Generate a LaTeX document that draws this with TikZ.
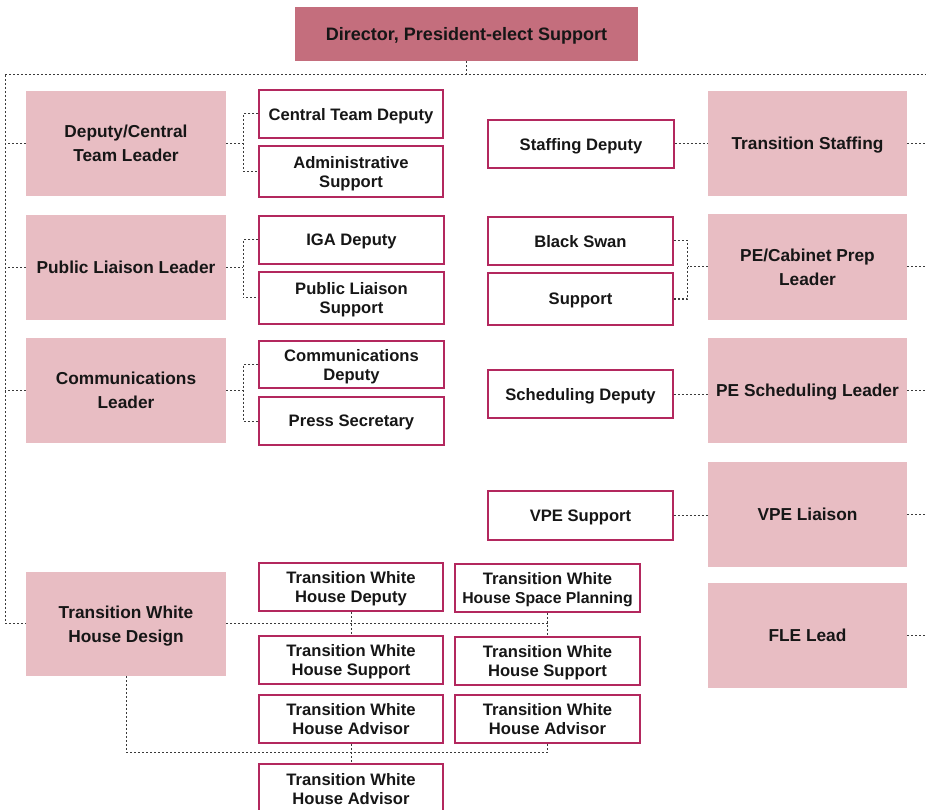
\documentclass[tikz,border=0pt]{standalone}
\usepackage{fontspec}
\setmainfont{Liberation Sans}
\usetikzlibrary{calc}
\definecolor{darkrose}{HTML}{C46E7D}
\definecolor{lightrose}{HTML}{E8BDC3}
\definecolor{boxline}{HTML}{B3285E}
\definecolor{txt}{HTML}{161616}
\definecolor{conncol}{HTML}{3A3A3A}
\tikzset{
  topbox/.style={fill=darkrose, draw=none, inner sep=0pt, align=center, text=txt, text depth=0pt,
    font=\fontsize{18}{20}\selectfont\bfseries},
  pinkbox/.style={fill=lightrose, draw=none, inner sep=0pt, align=center, text=txt, text depth=0pt,
    minimum width=200, minimum height=105,
    font=\fontsize{17.3}{24}\selectfont\bfseries},
  whitebox/.style={fill=white, draw=boxline, line width=1.5pt, inner sep=0pt, align=center, text=txt, text depth=0pt,
    minimum width=184, minimum height=48,
    font=\fontsize{16.6}{19}\selectfont\bfseries},
  conn/.style={draw=conncol, line width=1pt, dash pattern=on 2pt off 2pt},
}
\begin{document}
\begin{tikzpicture}[x=1pt, y=-1pt]
\useasboundingbox (0,0) rectangle (926,810);

% top
\node[topbox, minimum width=343, minimum height=54] (dir) at (466.5,34) {Director, President-elect Support};

% left pink column
\node[pinkbox] (dcl) at (126,143.5) {Deputy/Central\\Team Leader};
\node[pinkbox] (pll) at (126,267.5) {Public Liaison Leader};
\node[pinkbox] (cl) at (126,390.5) {Communications\\Leader};
\node[pinkbox, minimum height=104] (twhd) at (126,624) {Transition White\\House Design};

% left white column
\node[whitebox] (ctd) at (351,114) {Central Team Deputy};
\node[whitebox, minimum height=51] (adm) at (351,171.5) {Administrative\\Support};
\node[whitebox, minimum width=185] (iga) at (351.5,240) {IGA Deputy};
\node[whitebox, minimum width=185, minimum height=52] (pls) at (351.5,298) {Public Liaison\\Support};
\node[whitebox, minimum width=185, minimum height=47] (cd) at (351.5,364.5) {Communications\\Deputy};
\node[whitebox, minimum width=185] (ps) at (351.5,421) {Press Secretary};

% right pink column
\node[pinkbox, minimum width=199] (ts) at (807.5,143.5) {Transition Staffing};
\node[pinkbox, minimum width=199, minimum height=106] (pe) at (807.5,267) {PE/Cabinet Prep\\Leader};
\node[pinkbox, minimum width=199] (pes) at (807.5,390.5) {PE Scheduling Leader};
\node[pinkbox, minimum width=199] (vpe) at (807.5,514.5) {VPE Liaison};
\node[pinkbox, minimum width=199] (fle) at (807.5,635.5) {FLE Lead};

% right white column
\node[whitebox, minimum width=186] (sd) at (581,144) {Staffing Deputy};
\node[whitebox, minimum width=185] (bs) at (580.5,241) {Black Swan};
\node[whitebox, minimum width=185, minimum height=52] (sup) at (580.5,299) {Support};
\node[whitebox, minimum width=185] (schd) at (580.5,394) {Scheduling Deputy};
\node[whitebox, minimum width=185, minimum height=49] (vpes) at (580.5,515.5) {VPE Support};

% bottom group
\node[whitebox] (twdep) at (351,587) {Transition White\\House Deputy};
\node[whitebox, minimum width=185] (twsp) at (547.5,588) {Transition White\\{\fontsize{15.8}{19}\selectfont House Space Planning}};
\node[whitebox] (tws1) at (351,660) {Transition White\\House Support};
\node[whitebox, minimum width=185] (tws2) at (547.5,661) {Transition White\\House Support};
\node[whitebox] (twa1) at (351,719) {Transition White\\House Advisor};
\node[whitebox, minimum width=185] (twa2) at (547.5,719) {Transition White\\House Advisor};
\node[whitebox, minimum height=49] (twa3) at (351,788.5) {Transition White\\House Advisor};

% bus and trunk
\coordinate (busL) at (5,75);
\coordinate (busR) at (926,75);
\coordinate (trunkB) at (5,623);
\coordinate (edgeR) at (926,0);
\draw[conn] (dir.south) -- (dir.south |- busL);
\draw[conn] (busL) -- (busR);
\draw[conn] (busL) -- (trunkB);

% left leaders to trunk
\draw[conn] (dcl.west) -- (dcl.west -| busL);
\draw[conn] (pll.west) -- (pll.west -| busL);
\draw[conn] (cl.west) -- (cl.west -| busL);
\draw[conn] (trunkB) -- (trunkB -| twhd.west);

% left brackets
\draw[conn] (ctd.west) -- ++(-15,0) coordinate (b1) |- (adm.west);
\draw[conn] (dcl.east) -- (dcl.east -| b1);
\draw[conn] (iga.west) -- ++(-15,0) coordinate (b2) |- (pls.west);
\draw[conn] (pll.east) -- (pll.east -| b2);
\draw[conn] (cd.west) -- ++(-15,0) coordinate (b3) |- (ps.west);
\draw[conn] (cl.east) -- (cl.east -| b3);

% right side
\draw[conn] (sd.east) -- (sd.east -| ts.west);
\draw[conn] (bs.east) -- ++(14,0) coordinate (b4) |- (sup.east);
\draw[conn] (pe.west) -- (pe.west -| b4);
\draw[conn] (schd.east) -- (schd.east -| pes.west);
\draw[conn] (vpes.east) -- (vpes.east -| vpe.west);
\foreach \n in {ts,pe,pes,vpe,fle}{
  \draw[conn] (\n.east) -- (\n.east -| edgeR);
}

% bottom group
\draw[conn] (twhd.east |- trunkB) -- (twsp.south |- trunkB);
\draw[conn] (twdep.south) -- (tws1.north);
\draw[conn] (twsp.south) -- (tws2.north);
\draw[conn] (twhd.south) -- ++(0,76) coordinate (bb) -- (bb -| twa2.south) -- (twa2.south);
\draw[conn] (twa1.south) -- (twa3.north);
\end{tikzpicture}
\end{document}
